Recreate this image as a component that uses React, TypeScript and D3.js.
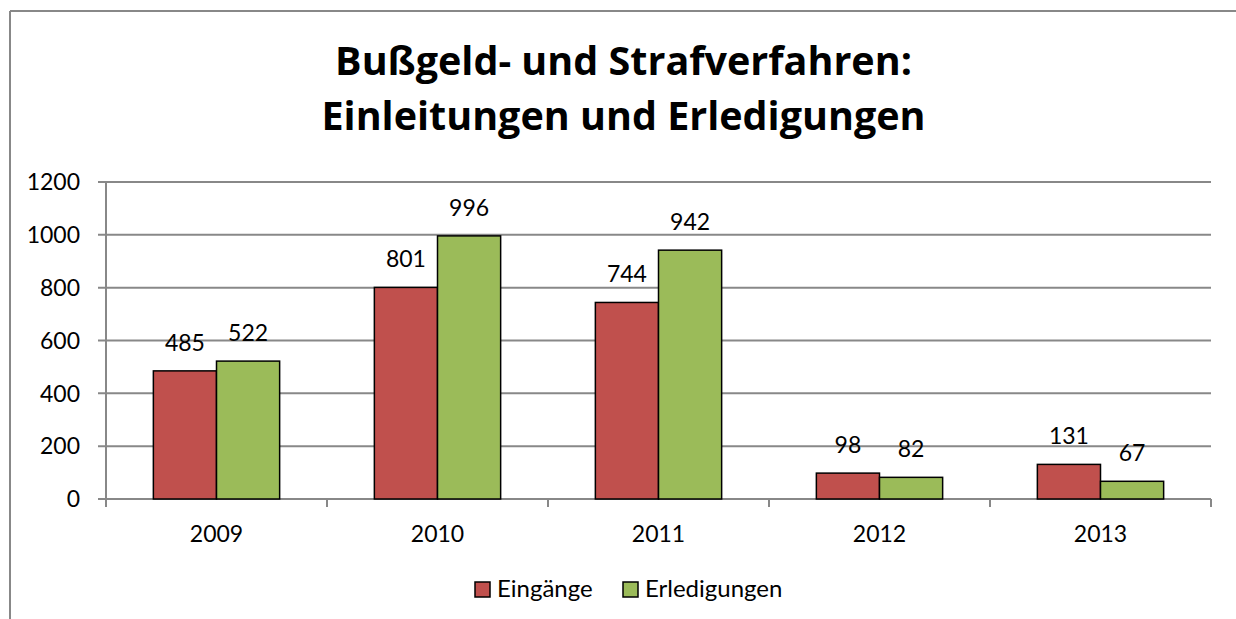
import React from "react";
import * as d3 from "d3";

const years = ["2009", "2010", "2011", "2012", "2013"];
const eingaenge = [485, 801, 744, 98, 131];
const erledigungen = [522, 996, 942, 82, 67];
const seriesNames = ["Eingänge", "Erledigungen"];
const seriesColors = ["#C0504D", "#9BBB59"];
const yTicks = [0, 200, 400, 600, 800, 1000, 1200];
const titleLines = ["Bußgeld- und Strafverfahren:", "Einleitungen und Erledigungen"];

const FONT = "Lato, 'Open Sans', sans-serif";
const TFONT = "'Open Sans', Lato, sans-serif";

export default function App() {
  const W = 1236, H = 619;
  const left = 106, right = 1211, top = 182, bottom = 499;
  const x = d3.scaleBand().domain(years).range([left, right]).paddingInner(0).paddingOuter(0);
  const y = d3.scaleLinear().domain([0, 1200]).range([bottom, top]);
  const step = x.bandwidth();
  const barW = step / 3.5;
  const series = [eingaenge, erledigungen];
  const grid = "#888888";
  const fs = 23;
  return (
    <svg width={W} height={H} style={{ position: "fixed", left: 0, top: 0, background: "#fff" }} fontFamily={FONT}>
      <rect x={0} y={0} width={W} height={H} fill="#fff" />
      <line x1={10} y1={11} x2={W} y2={11} stroke={grid} strokeWidth={2} />
      <line x1={10} y1={11} x2={10} y2={H} stroke={grid} strokeWidth={2} />
      {titleLines.map((t, i) => (
        <text key={t} x={623.5} y={75 + i * 55} textAnchor="middle" fontSize={39.5} fontWeight="bold" fontFamily={TFONT} fill="#000">{t}</text>
      ))}
      {yTicks.map((v) => (
        <g key={v}>
          <line x1={left - 8} x2={right} y1={y(v)} y2={y(v)} stroke={grid} strokeWidth={2} />
          <text x={80} y={y(v)} dy="0.36em" textAnchor="end" fontSize={fs} fill="#000">{v}</text>
        </g>
      ))}
      <line x1={left} x2={left} y1={top} y2={bottom + 8} stroke={grid} strokeWidth={2} />
      {[...years.map((yr) => x(yr) as number), right].map((px, i) => (
        <line key={i} x1={px} x2={px} y1={bottom} y2={bottom + 8} stroke={grid} strokeWidth={2} />
      ))}
      {years.map((yr, i) => {
        const cx = (x(yr) as number) + step / 2;
        return (
          <g key={yr}>
            {series.map((s, j) => {
              const bx = cx - barW + j * barW;
              return (
                <g key={j}>
                  <rect x={bx} y={y(s[i])} width={barW} height={bottom - y(s[i])} fill={seriesColors[j]} stroke="#000" strokeWidth={1.5} />
                  <text x={bx + barW / 2} y={y(s[i]) - 20} textAnchor="middle" fontSize={fs} fill="#000">{s[i]}</text>
                </g>
              );
            })}
            <text x={cx} y={542} textAnchor="middle" fontSize={fs} fill="#000">{yr}</text>
          </g>
        );
      })}
      {seriesNames.map((n, j) => {
        const lx = j === 0 ? 475 : 623;
        return (
          <g key={n}>
            <rect x={lx} y={582} width={15} height={15} fill={seriesColors[j]} stroke="#000" strokeWidth={1.5} />
            <text x={lx + 22} y={597} fontSize={24} fill="#000">{n}</text>
          </g>
        );
      })}
    </svg>
  );
}
